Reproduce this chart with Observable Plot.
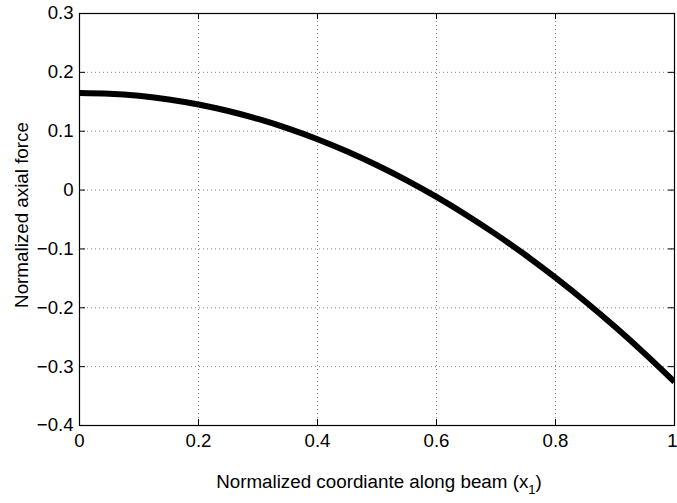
<!DOCTYPE html>
<html><head><meta charset="utf-8">
<script src="https://cdn.jsdelivr.net/npm/d3@7"></script>
<script src="https://cdn.jsdelivr.net/npm/@observablehq/plot@0.6"></script>
<style>body{margin:0;background:#fff}</style>
</head><body><div id="chart"></div>
<script>
const xPos = [0, 0.05, 0.1, 0.15, 0.2, 0.25, 0.3, 0.35, 0.4, 0.45, 0.5, 0.55, 0.6, 0.65, 0.7, 0.75, 0.8, 0.85, 0.9, 0.95, 1.0];
const axialForce = [0.1650, 0.1638, 0.1601, 0.1540, 0.1454, 0.1343, 0.1208, 0.1048, 0.0864, 0.0655, 0.0422, 0.0165, -0.0117, -0.0423, -0.0753, -0.1108, -0.1488, -0.1893, -0.2323, -0.2778, -0.3258];
const xTicks = [0, 0.2, 0.4, 0.6, 0.8, 1];
const yTicks = [-0.4, -0.3, -0.2, -0.1, 0, 0.1, 0.2, 0.3];
const xLabelMain = "Normalized coordiante along beam (x";
const xLabelSub = "1";
const xLabelEnd = ")";
const yLabel = "Normalized axial force";

const W = 677, H = 503, mL = 79, mR = 3, mT = 13, mB = 78;
const plotW = W - mL - mR, plotH = H - mT - mB;
const tick = 6;
const font = "'Liberation Sans', Arial, Helvetica, sans-serif";
const data = xPos.map((x, i) => ({x, y: axialForce[i]}));
const fmt = d3.format("");

const chart = Plot.plot({
  width: W, height: H,
  marginLeft: mL, marginRight: mR, marginTop: mT, marginBottom: mB,
  style: {fontFamily: font, fontSize: "18.6px", background: "white", color: "black"},
  x: {domain: [0, 1]},
  y: {domain: [-0.4, 0.3]},
  marks: [
    Plot.gridX(xTicks.slice(1, -1), {stroke: "#888", strokeOpacity: 1, strokeDasharray: "1,3"}),
    Plot.gridY(yTicks.slice(1, -1), {stroke: "#888", strokeOpacity: 1, strokeDasharray: "1,3"}),
    Plot.tickX(xTicks, {x: d => d, insetTop: plotH - tick, stroke: "black"}),
    Plot.tickX(xTicks, {x: d => d, insetBottom: plotH - tick, stroke: "black"}),
    Plot.tickY(yTicks, {y: d => d, insetRight: plotW - tick, stroke: "black"}),
    Plot.tickY(yTicks, {y: d => d, insetLeft: plotW - tick, stroke: "black"}),
    Plot.line(data, {x: "x", y: "y", stroke: "black", strokeWidth: 6, strokeLinecap: "butt", curve: "natural", clip: true}),
    Plot.frame({stroke: "black", strokeWidth: 1.2}),
    Plot.axisX(xTicks.slice(0, -1), {tickSize: 0, tickPadding: 8, label: null, tickFormat: fmt}),
    Plot.axisX(xTicks.slice(-1), {tickSize: 0, tickPadding: 8, label: null, tickFormat: fmt, textAnchor: "end", dx: 3}),
    Plot.axisY(yTicks, {tickSize: 0, tickPadding: 6, label: null, tickFormat: fmt})
  ]
});

const svg = d3.select(chart);
const xl = svg.append("text")
  .attr("x", 379).attr("y", 488)
  .attr("text-anchor", "middle")
  .attr("font-family", font).attr("font-size", 18.8).attr("fill", "black");
xl.append("tspan").text(xLabelMain);
xl.append("tspan").attr("font-size", 13).attr("dy", 6).text(xLabelSub);
xl.append("tspan").attr("dy", -6).text(xLabelEnd);

svg.append("text")
  .attr("transform", "translate(28,215) rotate(-90)")
  .attr("text-anchor", "middle")
  .attr("font-family", font).attr("font-size", 18.8).attr("fill", "black")
  .text(yLabel);

document.getElementById("chart").appendChild(chart);
</script>
</body></html>
